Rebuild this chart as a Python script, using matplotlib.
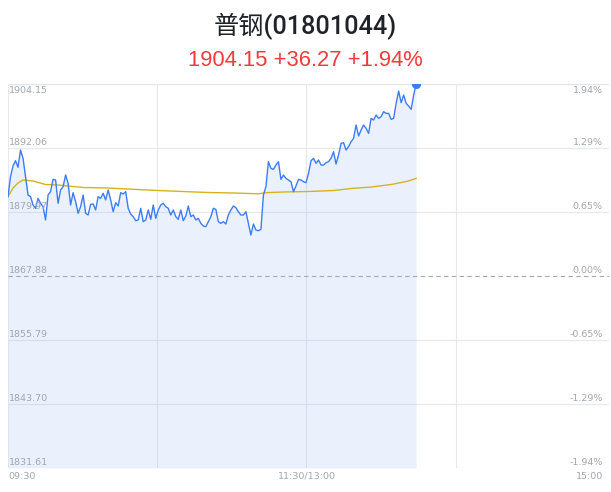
import matplotlib
matplotlib.use("Agg")
import matplotlib.pyplot as plt
import numpy as np

title = "普钢(01801044)"
subtitle = "1904.15 +36.27 +1.94%"
prev_close = 1867.88
price_levels = [1904.15, 1892.06, 1879.97, 1867.88, 1855.79, 1843.70, 1831.61]
pct_labels = ["1.94%", "1.29%", "0.65%", "0.00%", "-0.65%", "-1.29%", "-1.94%"]
time_labels = ["09:30", "11:30/13:00", "15:00"]
total_minutes = 240

prices = [
    1882.87, 1886.64, 1888.66, 1889.67, 1888.41, 1891.68, 1890.11, 1886.64, 1883.18, 1882.87,
    1881.29, 1880.66, 1882.55, 1881.61, 1880.98, 1878.46, 1883.18, 1883.81, 1886.14, 1886.01,
    1881.61, 1884.13, 1884.75, 1886.96, 1885.39, 1881.29, 1883.62, 1881.92, 1879.72, 1880.98,
    1883.18, 1879.72, 1879.40, 1881.42, 1881.48, 1880.35, 1882.87, 1882.55, 1883.50, 1882.24,
    1884.13, 1882.24, 1880.03, 1881.73, 1881.10, 1883.62, 1883.37, 1883.81, 1880.66, 1879.59,
    1879.09, 1878.33, 1878.46, 1880.66, 1878.14, 1878.46, 1880.35, 1878.58, 1881.29, 1878.77,
    1880.35, 1881.29, 1881.61, 1880.98, 1880.66, 1879.40, 1880.35, 1879.09, 1878.58, 1880.35,
    1878.33, 1879.21, 1881.10, 1879.09, 1879.40, 1878.46, 1878.77, 1877.83, 1877.33, 1877.20,
    1878.14,
    1879.08, 1880.66, 1880.47, 1878.14, 1877.82, 1878.14, 1877.70, 1879.40, 1880.34, 1881.10,
    1880.78, 1880.03, 1879.40, 1879.40, 1880.03, 1877.82, 1875.62, 1877.70, 1876.56, 1876.44,
    1876.69, 1883.18, 1884.75, 1889.47, 1888.21, 1888.02, 1888.84, 1889.47, 1886.13, 1886.95,
    1886.32, 1886.01, 1885.69, 1883.81, 1884.88, 1886.13, 1886.01, 1885.69, 1885.51, 1887.27,
    1889.66, 1890.10, 1889.16, 1889.79, 1888.84, 1888.84, 1889.28, 1889.47, 1890.10, 1891.36,
    1889.03, 1890.73, 1892.94, 1893.06, 1891.68, 1892.31, 1893.25, 1893.88, 1896.40, 1894.32,
    1895.45, 1896.40, 1895.77, 1894.82, 1897.66, 1897.34, 1898.29, 1897.66, 1897.97, 1898.92,
    1898.60, 1898.60, 1897.47, 1897.66, 1900.49, 1902.82, 1900.62, 1902.07, 1900.49, 1899.99,
    1899.36, 1902.07, 1904.15,
]

avg_minutes = [0, 2, 4, 6, 10, 15, 20, 30, 40, 50, 60, 70, 80, 90, 100, 103, 110, 120, 130, 137, 145, 153, 160, 163]
avg_values = [1882.87, 1884.50, 1885.45, 1886.01, 1885.83, 1885.16, 1885.07, 1884.60, 1884.50, 1884.26,
              1884.03, 1883.84, 1883.65, 1883.56, 1883.41, 1883.62, 1883.75, 1883.84, 1884.03, 1884.41,
              1884.69, 1885.16, 1885.83, 1886.34]

W, H = 611, 492
fig = plt.figure(figsize=(W / 100, H / 100), dpi=100)
fig.patch.set_facecolor("white")

left_px, right_px, top_px, bot_px = 8, 609, 84, 468
ax = fig.add_axes([left_px / W, 1 - bot_px / H, (right_px - left_px) / W, (bot_px - top_px) / H])
ax.set_xlim(0, total_minutes)
ax.set_ylim(price_levels[-1], price_levels[0])
for s in ax.spines.values():
    s.set_visible(False)
ax.set_xticks([])
ax.set_yticks([])

grid_c = "#e6e8ee"
for lv in price_levels:
    if abs(lv - prev_close) < 1e-6:
        ax.axhline(lv, color="#a3a9b6", lw=0.8, ls=(0, (4, 3)), zorder=3)
    else:
        ax.axhline(lv, color=grid_c, lw=0.8, zorder=0.5)
ax.axhline(price_levels[0], color="#e2e4ea", lw=1.6, zorder=0.5)
for m in [0, 59.4, 119.2, 179, 240]:
    ax.axvline(m, color=grid_c, lw=0.8, zorder=0.5)

x = np.arange(len(prices))
ax.fill_between(x, prices, price_levels[-1], color="#3a7cf0", alpha=0.1, lw=0, zorder=1)
ax.plot(x, prices, color="#3b7df2", lw=1.0, zorder=4)
ax.plot(avg_minutes, avg_values, color="#d6b31a", lw=1.0, zorder=3.5)
ax.plot([x[-1]], [prices[-1]], marker="o", ms=5.5, color="#3b7df2", zorder=5, clip_on=True)

lab_c = "#a0a5b0"
fs = 6.8
for i, (lv, pl) in enumerate(zip(price_levels, pct_labels)):
    dy = -4.5 if i == 0 else 4.3
    ax.annotate(f"{lv:.2f}", xy=(0, lv), xycoords=("axes fraction", "data"),
                xytext=(0.8, dy), textcoords="offset points", ha="left", va="center",
                fontsize=fs, color=lab_c, zorder=6)
    ax.annotate(pl, xy=(1, lv), xycoords=("axes fraction", "data"),
                xytext=(-4.5, dy), textcoords="offset points", ha="right", va="center",
                fontsize=fs, color=lab_c, zorder=6)

for m, t, ha in zip([0, 119.2, 240], time_labels, ["left", "center", "right"]):
    ax.annotate(t, xy=(m, 0), xycoords=("data", "axes fraction"),
                xytext=(0 if ha != "right" else -4.5, -6), textcoords="offset points",
                ha=ha, va="center", fontsize=fs, color=lab_c, annotation_clip=False)

fig.text(0.5, 1 - 26 / H, title, ha="center", va="center", fontsize=18.2,
         color="#1f2329", family=["Roboto", "Noto Sans CJK SC"], fontweight="medium")
fig.text(0.5, 1 - 60 / H, subtitle, ha="center", va="center", fontsize=15.8,
         color="#ef3b3b", family=["Liberation Sans", "DejaVu Sans"])

fig.savefig("out.png", dpi=100, facecolor="white")
